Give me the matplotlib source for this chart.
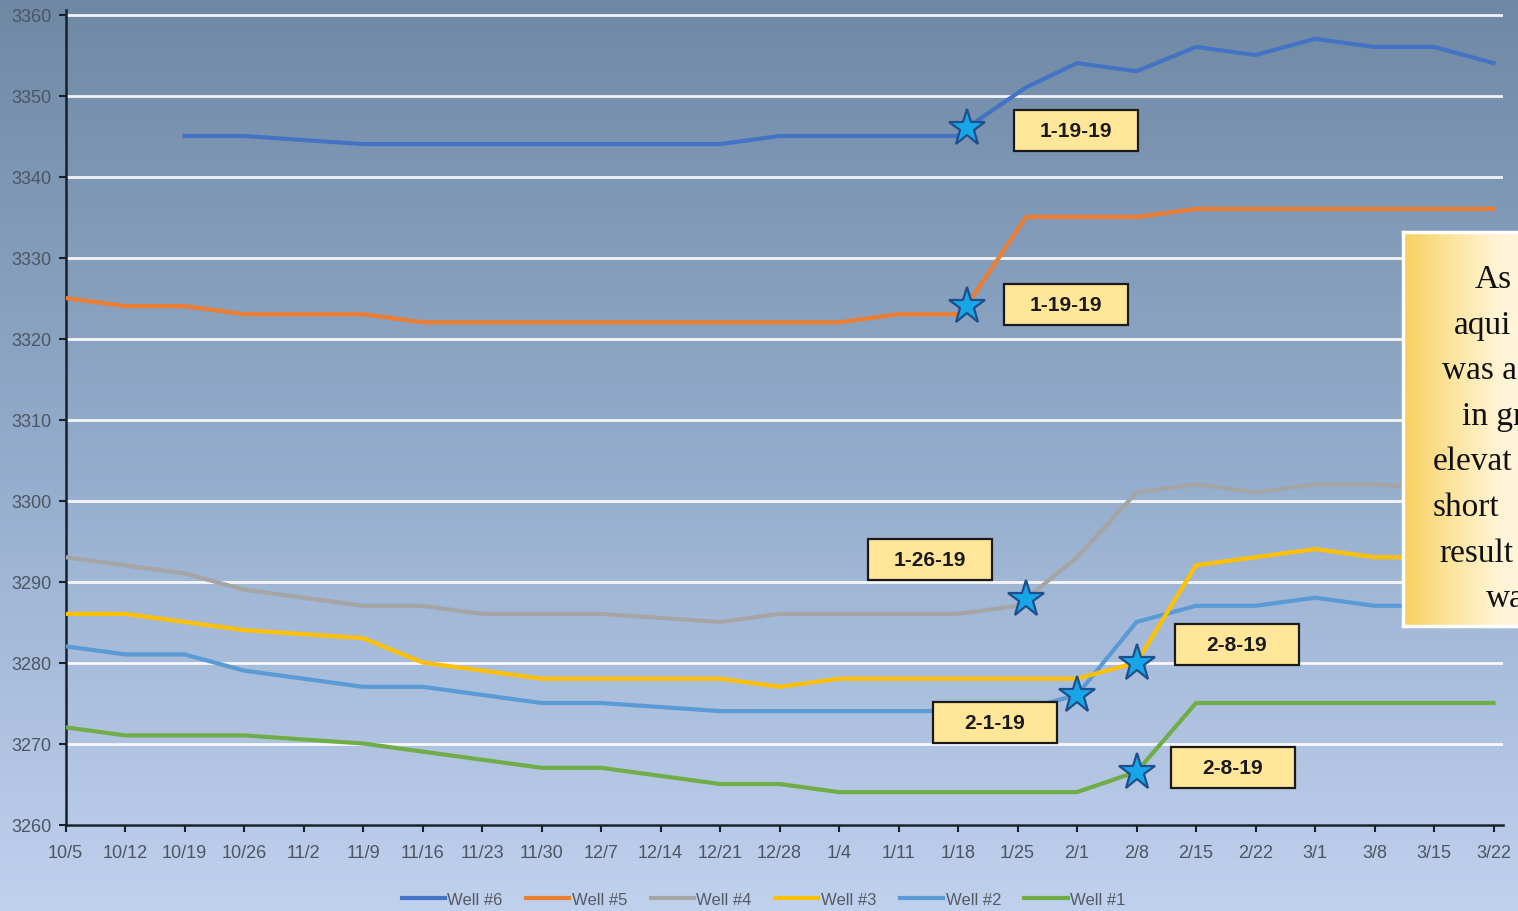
import numpy as np
import pandas as pd
import matplotlib
matplotlib.use("Agg")
import matplotlib.pyplot as plt
from matplotlib.patches import Rectangle
from matplotlib.transforms import ScaledTranslation
from matplotlib.colors import LinearSegmentedColormap

plt.rcParams["font.family"] = ["Liberation Sans", "DejaVu Sans"]

# weekly water level readings (ft)
weeks = pd.date_range("2018-10-05", "2019-03-22", freq="7D")
week_labels = [f"{d.month}/{d.day}" for d in weeks]
nan = np.nan

well6 = [nan, nan, 3345, 3345, 3344.5, 3344, 3344, 3344, 3344, 3344, 3344, 3344, 3345,
         3345, 3345, 3345, nan, 3354, 3353, 3356, 3355, 3357, 3356, 3356, 3354]
well5 = [3325, 3324, 3324, 3323, 3323, 3323, 3322, 3322, 3322, 3322, 3322, 3322, 3322,
         3322, 3323, 3323, nan, 3335, 3335, 3336, 3336, 3336, 3336, 3336, 3336]
well4 = [3293, 3292, 3291, 3289, 3288, 3287, 3287, 3286, 3286, 3286, 3285.5, 3285, 3286,
         3286, 3286, 3286, 3287, 3293, 3301, 3302, 3301, 3302, 3302, 3301.5, 3301]
well3 = [3286, 3286, 3285, 3284, 3283.5, 3283, 3280, 3279, 3278, 3278, 3278, 3278, 3277,
         3278, 3278, 3278, 3278, 3278, 3280, 3292, 3293, 3294, 3293, 3293, 3293]
well2 = [3282, 3281, 3281, 3279, 3278, 3277, 3277, 3276, 3275, 3275, 3274.5, 3274, 3274,
         3274, 3274, 3274, 3274, 3276, 3285, 3287, 3287, 3288, 3287, 3287, 3287]
well1 = [3272, 3271, 3271, 3271, 3270.5, 3270, 3269, 3268, 3267, 3267, 3266, 3265, 3265,
         3264, 3264, 3264, 3264, 3264, 3266.5, 3275, 3275, 3275, 3275, 3275, 3275]

# off-week readings for wells 6 and 5
extra_dates = ["2019-01-19", "2019-01-26"]
well6_extra = [3346, 3351]
well5_extra = [3324, 3335]

well_names = ["Well #6", "Well #5", "Well #4", "Well #3", "Well #2", "Well #1"]
well_colors = ["#4472C4", "#ED7D31", "#A5A5A5", "#FFC000", "#5B9BD5", "#70AD47"]

# recovery start markers
star_dates = ["2019-01-19", "2019-01-19", "2019-01-26", "2019-02-08", "2019-02-01", "2019-02-08"]
star_values = [3346, 3324, 3287.8, 3280, 3276, 3266.5]
star_labels = ["1-19-19", "1-19-19", "1-26-19", "2-8-19", "2-1-19", "2-8-19"]
label_offsets = [(109, -3), (99, 2), (-96, 40), (100, 18), (-82, -28), (96, 4)]  # px

note_lines = ["As", "aqui", "was a", "in gr", "elevat", "short", "result", "wa"]


def to_days(idx):
    return np.asarray((pd.DatetimeIndex(idx) - weeks[0]).days, dtype=float)


def series(vals, extra=None):
    s = pd.Series(vals, index=weeks, dtype=float)
    if extra is not None:
        s = pd.concat([s, pd.Series(extra, index=pd.to_datetime(extra_dates))]).sort_index()
    s = s.dropna()
    return to_days(s.index), s.values


W, H, DPI = 1518, 912, 100
fig = plt.figure(figsize=(W / DPI, H / DPI), dpi=DPI)

# slide background gradient
bg = fig.add_axes([0, 0, 1, 1], zorder=-5)
bg_cmap = LinearSegmentedColormap.from_list("bg", ["#6F89A5", "#93ACCB", "#C0D1EE"])
bg.imshow(np.linspace(0, 1, 256).reshape(-1, 1), cmap=bg_cmap, aspect="auto",
          extent=[0, 1, 0, 1], origin="upper")
bg.set_axis_off()

x_end = (1503 - 65.5) / 59.5 * 7
y_top = 3360.6
ax_top = 15.5 - 0.6 * 8.095
ax = fig.add_axes([65.5 / W, 1 - 825.5 / H, (1503 - 65.5) / W, (825.5 - ax_top) / H])
ax.set_facecolor("none")

data = [series(well6, well6_extra), series(well5, well5_extra), series(well4),
        series(well3), series(well2), series(well1)]
handles = []
for i, ((xs, ys), name, col) in enumerate(zip(data, well_names, well_colors)):
    ln, = ax.plot(xs, ys, color=col, lw=3, label=name, zorder=3 + (5 - i) * 0.1,
                  solid_joinstyle="round")
    handles.append(ln)

sx = to_days(pd.to_datetime(star_dates))
ax.plot(sx, star_values, ls="none", marker="*", ms=28, mfc="#17A6E8", mec="#1F4E8C",
        mew=1.6, zorder=6)

for x, y, lab, (dx, dy) in zip(sx, star_values, star_labels, label_offsets):
    bw, bh = 124, 41
    trans = fig.dpi_scale_trans + ScaledTranslation(x, y, ax.transData)
    ax.add_patch(Rectangle(((dx - bw / 2) / DPI, (dy - bh / 2) / DPI), bw / DPI, bh / DPI,
                           transform=trans, facecolor="#FFE699", edgecolor="#1A1A1A",
                           lw=1.6, zorder=7, clip_on=False))
    ax.annotate(lab, xy=(x, y), xytext=(dx * 0.72, dy * 0.72), textcoords="offset points",
                ha="center", va="center", fontsize=15, fontweight="bold", color="#1A1A1A",
                zorder=8, annotation_clip=False)

ax.set_xlim(0, x_end)
ax.set_ylim(3260, y_top)
ax.set_xticks(to_days(weeks))
ax.set_xticklabels(week_labels)
ax.set_yticks(range(3260, 3361, 10))
ax.yaxis.grid(True, color="white", lw=2, alpha=0.9)
ax.set_axisbelow(True)
for side in ["top", "right"]:
    ax.spines[side].set_visible(False)
for side in ["left", "bottom"]:
    ax.spines[side].set_color("#17202C")
    ax.spines[side].set_linewidth(1.8)
ax.tick_params(axis="both", direction="out", length=5, width=1.5, color="#17202C",
               labelsize=13, labelcolor="#4D5562")
ax.tick_params(axis="x", pad=9)
ax.tick_params(axis="y", pad=5)

fig.legend(handles, well_names, loc="center", bbox_to_anchor=(0.503, 0.013), ncol=6,
           frameon=False, fontsize=12, handlelength=2.6, handletextpad=0.15,
           columnspacing=1.4, labelcolor="#555A62")

# annotation box at the right edge
note_ax = fig.add_axes([1403 / W, 1 - 627 / H, 140 / W, (627 - 233) / H], zorder=5)
note_cmap = LinearSegmentedColormap.from_list("note", ["#F8CE5E", "#FDE49C", "#FFF3D2", "#FFF8E6"])
note_ax.imshow(np.linspace(0, 1, 256).reshape(1, -1), cmap=note_cmap, aspect="auto",
               extent=[0, 1, 0, 1])
note_ax.set_xticks([])
note_ax.set_yticks([])
for sp in note_ax.spines.values():
    sp.set_color("white")
    sp.set_linewidth(2.5)

note_x = [1475, 1454, 1442, 1462, 1433, 1433, 1439, 1486]
for i, (txt, px) in enumerate(zip(note_lines, note_x)):
    fig.text(px / W, 1 - (288 + 45.6 * i) / H, txt, fontsize=24, va="baseline", ha="left",
             family=["Liberation Serif", "DejaVu Serif"], color="#111111", zorder=10)

fig.savefig("out.png", dpi=DPI)
